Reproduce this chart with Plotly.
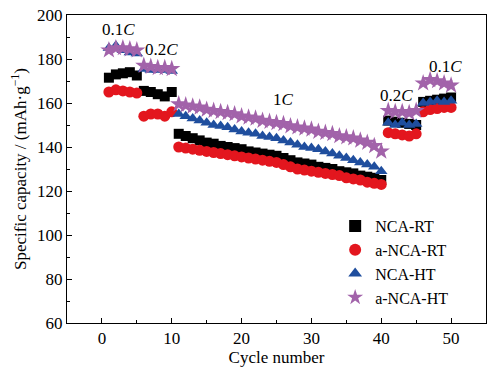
import plotly.graph_objects as go

cycles = list(range(1, 51))

nca_rt = [171.5, 173, 173.5, 174, 172.5,
          165.5, 165, 164, 163, 165,
          146, 145, 144, 143, 142, 141.5, 140.5, 140, 139.5, 139,
          138, 137.5, 137, 136.5, 136, 135, 134, 133, 132.5, 132,
          131, 130.5, 130, 129, 128.5, 128, 127, 126.5, 126, 125,
          152, 151.5, 151, 150.5, 150,
          160.5, 161, 161.5, 162, 162.5]

a_nca_rt = [165, 166, 165.5, 165, 164.5,
            154, 155, 155, 154, 156,
            140, 139.5, 139, 138.5, 138, 137.5, 137, 136.5, 136, 135.5,
            135, 134.5, 134, 133.5, 133, 132, 131, 130, 129.5, 129,
            128.5, 128, 127.5, 127, 126, 125.5, 125, 124, 123.5, 123,
            146.5, 146, 145.5, 145, 146,
            156, 157, 157.5, 158, 158]

nca_ht = [185, 186, 184, 183, 182.5,
          175.5, 175, 175, 175, 174.5,
          155, 154, 153, 152, 151, 150, 149.5, 149, 148, 147,
          146.5, 146, 145, 144.5, 144, 143, 142, 141, 140, 139.5,
          139, 138, 137, 136, 135, 134, 133, 132, 131, 129,
          151, 150, 151, 150, 150.5,
          160, 160.5, 161, 160.5, 161]

a_nca_ht = [184, 185, 185, 184.5, 184,
            177, 176.5, 176, 176, 175.5,
            159.5, 159, 158.5, 158, 157, 156.5, 156, 155.5, 155, 154,
            153.5, 153, 152, 151.5, 151, 150.5, 149.5, 149, 148.5, 148,
            147, 146.5, 146, 145, 144.5, 144, 143, 142, 140.5, 138,
            156.5, 156, 156, 155.5, 156.5,
            169, 170.5, 170, 169, 168]

series_names = ["NCA-RT", "a-NCA-RT", "NCA-HT", "a-NCA-HT"]
series_vals = [nca_rt, a_nca_rt, nca_ht, a_nca_ht]
symbols = ["square", "circle", "triangle-up", "star"]
colors = ["#000000", "#E3161E", "#1F4E9E", "#A263AA"]
sizes = [10, 11, 11, 13]

rate_labels = ["0.1<i>C</i>", "0.2<i>C</i>", "1<i>C</i>", "0.2<i>C</i>", "0.1<i>C</i>"]
rate_x = [2.4, 8.6, 26.0, 42.2, 49.2]
rate_y = [193.5, 184.5, 161.5, 163.5, 176.5]

FONT = "Liberation Serif"

fig = go.Figure()
for name, vals, sym, col, sz in zip(series_names, series_vals, symbols, colors, sizes):
    fig.add_trace(go.Scatter(
        x=cycles, y=vals, mode="markers", name=name,
        marker=dict(symbol=sym, color=col, size=sz, line=dict(width=0)),
    ))

for t, x, y in zip(rate_labels, rate_x, rate_y):
    fig.add_annotation(x=x, y=y, text=t, showarrow=False,
                       font=dict(family=FONT, size=17, color="black"))

axis_common = dict(
    showgrid=False, zeroline=False, showline=True, linecolor="black", linewidth=1,
    mirror=True, ticks="inside", ticklen=5, tickcolor="black", automargin=False,
    tickfont=dict(family=FONT, size=17, color="black"),
    minor=dict(ticks="inside", ticklen=3, tickcolor="black"),
)

fig.update_xaxes(range=[-5, 55], tickvals=[0, 10, 20, 30, 40, 50],
                 minor_tickvals=[-5, 5, 15, 25, 35, 45],
                 title=dict(text="Cycle number", standoff=0,
                            font=dict(family=FONT, size=17, color="black")),
                 **axis_common)
fig.update_yaxes(range=[60, 200], tickvals=[60, 80, 100, 120, 140, 160, 180, 200],
                 minor_tickvals=[70, 90, 110, 130, 150, 170, 190],
                 title=dict(text="Specific capacity / (mAh·g<sup>−1</sup>)", standoff=6,
                            font=dict(family=FONT, size=17, color="black")),
                 **axis_common)

fig.update_layout(
    width=493, height=368,
    margin=dict(l=67, r=7, t=15, b=45),
    paper_bgcolor="white", plot_bgcolor="white",
    showlegend=True,
    legend=dict(x=0.64, y=0.37, xanchor="left", yanchor="top",
                bgcolor="rgba(0,0,0,0)", tracegroupgap=0,
                itemsizing="constant",
                font=dict(family=FONT, size=16, color="black")),
    hovermode=False,
)

fig.write_html("out.html",
               config={"displayModeBar": False},
               post_script="document.body.style.margin='0';document.body.style.padding='0';")
